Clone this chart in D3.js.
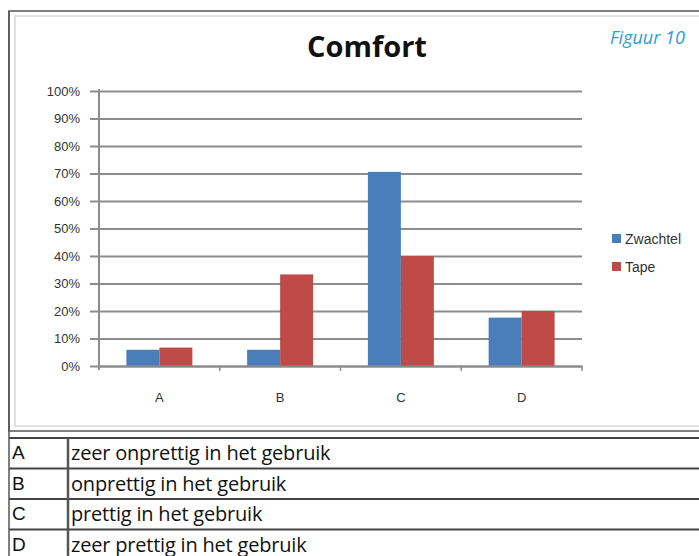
<!DOCTYPE html>
<html>
<head>
<meta charset="utf-8">
<script src="https://cdn.jsdelivr.net/npm/d3@7"></script>
<style>
  body { margin: 0; background: #fff; }
  svg { display: block; }
</style>
</head>
<body>
<script>
// data
const categories = ["A", "B", "C", "D"];
const seriesNames = ["Zwachtel", "Tape"];
const zwachtel = [0.059, 0.059, 0.706, 0.176];
const tape = [0.067, 0.333, 0.40, 0.20];
const yTicks = [0, 0.1, 0.2, 0.3, 0.4, 0.5, 0.6, 0.7, 0.8, 0.9, 1.0];
const tableRows = [
  ["A", "zeer onprettig in het gebruik"],
  ["B", "onprettig in het gebruik"],
  ["C", "prettig in het gebruik"],
  ["D", "zeer prettig in het gebruik"]
];

const width = 699, height = 556;
const colors = ["#4a7ebb", "#be4b48"];
const margin = {top: 91, right: 117, bottom: 190, left: 99};

const svg = d3.select("body").append("svg")
  .attr("width", width)
  .attr("height", height);

// chart frame (double border)
svg.append("rect")
  .attr("x", 9).attr("y", 11)
  .attr("width", 720).attr("height", 420)
  .attr("fill", "none").attr("stroke", "#555").attr("stroke-width", 1.5);
svg.append("rect")
  .attr("x", 15).attr("y", 16)
  .attr("width", 720).attr("height", 410)
  .attr("fill", "none").attr("stroke", "#d8d8d8").attr("stroke-width", 1.5);

const x = d3.scaleBand()
  .domain(categories)
  .range([margin.left, width - margin.right])
  .paddingInner(0)
  .paddingOuter(0);

const x1 = d3.scaleBand()
  .domain(seriesNames)
  .range([0, x.bandwidth()])
  .paddingInner(0)
  .paddingOuter(0.83);

const y = d3.scaleLinear()
  .domain([0, 1])
  .range([height - margin.bottom, margin.top]);

// gridlines + y axis
const yAxis = g => g
  .attr("transform", `translate(${margin.left},0)`)
  .call(d3.axisLeft(y).tickValues(yTicks).tickFormat(d3.format(".0%"))
    .tickSize(-(width - margin.right - margin.left)).tickPadding(19))
  .call(g => g.select(".domain").remove())
  .call(g => g.selectAll(".tick line").attr("stroke", "#8c8c8c").attr("stroke-width", 2).attr("x1", -9))
  .call(g => g.selectAll(".tick text")
    .attr("fill", "#333").attr("font-size", 13).attr("font-family", "Liberation Sans, Arial, sans-serif"));
svg.append("g").call(yAxis);

// vertical axis line
svg.append("line")
  .attr("x1", margin.left).attr("x2", margin.left)
  .attr("y1", margin.top - 2).attr("y2", y(0) + 4)
  .attr("stroke", "#8c8c8c").attr("stroke-width", 2);

// bars
const rows = categories.map((c, i) => ({cat: c, vals: [zwachtel[i], tape[i]]}));
svg.append("g").selectAll("g")
  .data(rows)
  .join("g")
  .attr("transform", d => `translate(${x(d.cat)},0)`)
  .selectAll("rect")
  .data(d => d.vals.map((v, j) => ({name: seriesNames[j], v, j})))
  .join("rect")
  .attr("x", d => x1(d.name))
  .attr("y", d => y(d.v))
  .attr("width", x1.bandwidth())
  .attr("height", d => y(0) - y(d.v))
  .attr("fill", d => colors[d.j]);

// x axis
const xAxis = g => g
  .attr("transform", `translate(0,${y(0)})`)
  .call(d3.axisBottom(x).tickSize(0).tickPadding(27))
  .call(g => g.select(".domain").attr("stroke", "#8c8c8c").attr("stroke-width", 2))
  .call(g => g.selectAll(".tick text")
    .attr("fill", "#333").attr("font-size", 13).attr("font-family", "Liberation Sans, Arial, sans-serif"));
svg.append("g").call(xAxis);

// small ticks between categories
svg.append("g").selectAll("line")
  .data(categories.slice(1).concat(["end"]))
  .join("line")
  .attr("x1", d => d === "end" ? x.range()[1] : x(d))
  .attr("x2", d => d === "end" ? x.range()[1] : x(d))
  .attr("y1", y(0)).attr("y2", y(0) + 5)
  .attr("stroke", "#8c8c8c").attr("stroke-width", 1.5);

// title
svg.append("text")
  .attr("x", 367).attr("y", 57)
  .attr("text-anchor", "middle")
  .attr("font-family", "Open Sans, Liberation Sans, sans-serif")
  .attr("font-weight", "bold")
  .attr("font-size", 29)
  .attr("fill", "#111")
  .text("Comfort");

svg.append("text")
  .attr("x", 610).attr("y", 44)
  .attr("font-family", "Open Sans, sans-serif")
  .attr("font-style", "italic")
  .attr("font-size", 18)
  .attr("fill", "#2b9ed6")
  .text("Figuur 10");

// legend
const legend = svg.append("g").selectAll("g")
  .data(seriesNames)
  .join("g")
  .attr("transform", (d, i) => `translate(612,${234 + i * 28})`);
legend.append("rect")
  .attr("width", 9).attr("height", 9)
  .attr("fill", (d, i) => colors[i]);
legend.append("text")
  .attr("x", 13).attr("y", 10)
  .attr("font-size", 14)
  .attr("font-family", "Liberation Sans, Arial, sans-serif")
  .attr("fill", "#333")
  .text(d => d);

// description table
const rowH = 30.5, tableTop = 438;
const table = svg.append("g");
table.selectAll("line.h")
  .data(d3.range(tableRows.length))
  .join("line")
  .attr("class", "h")
  .attr("x1", 9).attr("x2", width)
  .attr("y1", i => tableTop + i * rowH).attr("y2", i => tableTop + i * rowH)
  .attr("stroke", "#444").attr("stroke-width", 2);
table.append("line")
  .attr("x1", 68).attr("x2", 68)
  .attr("y1", tableTop).attr("y2", height)
  .attr("stroke", "#555").attr("stroke-width", 2.5);
table.append("line")
  .attr("x1", 9).attr("x2", 9)
  .attr("y1", 11).attr("y2", height)
  .attr("stroke", "#555").attr("stroke-width", 1.5);
table.selectAll("text.k")
  .data(tableRows)
  .join("text")
  .attr("class", "k")
  .attr("x", 12).attr("y", (d, i) => tableTop + i * rowH + 21)
  .attr("font-size", 19)
  .attr("font-family", "Liberation Sans, Arial, sans-serif")
  .attr("fill", "#111")
  .text(d => d[0]);
table.selectAll("text.v")
  .data(tableRows)
  .join("text")
  .attr("class", "v")
  .attr("x", 71).attr("y", (d, i) => tableTop + i * rowH + 22)
  .attr("font-size", 20)
  .attr("font-family", "Open Sans, sans-serif")
  .attr("letter-spacing", -0.2)
  .attr("fill", "#111")
  .text(d => d[1]);
</script>
</body>
</html>
